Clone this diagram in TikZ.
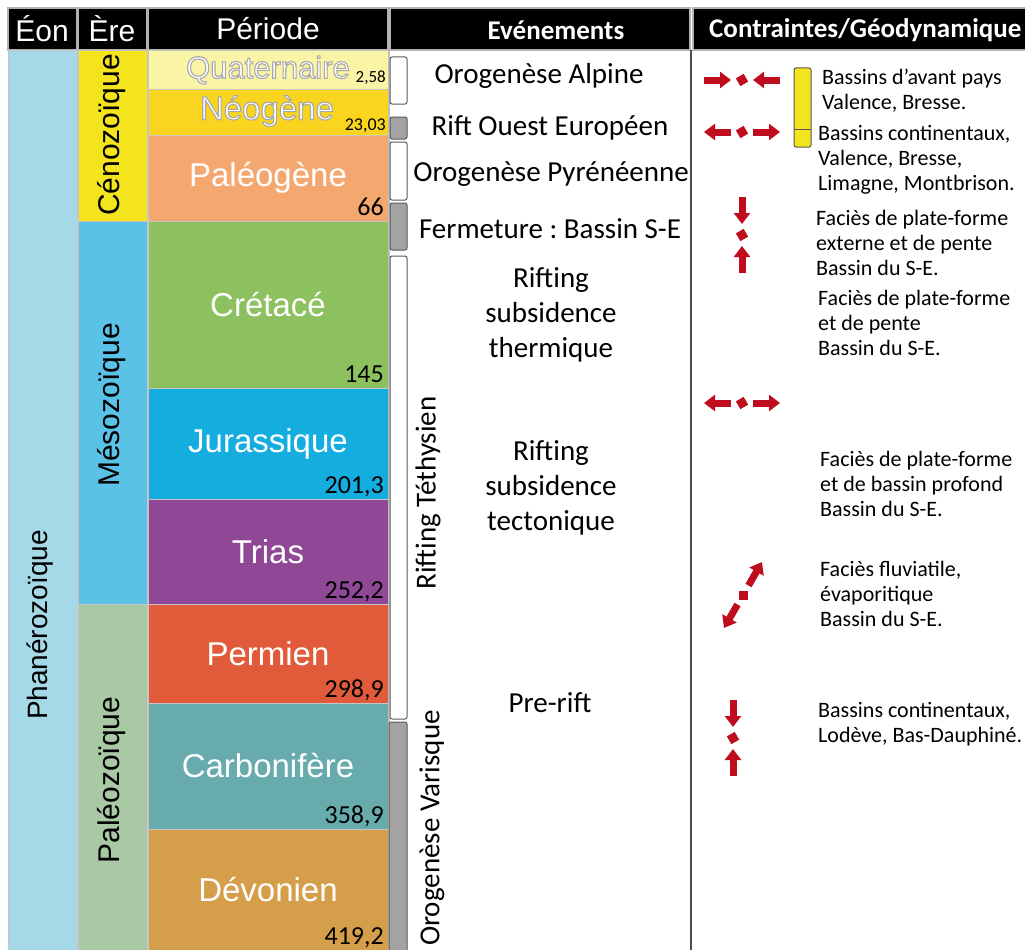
\documentclass[tikz,border=0pt]{standalone}
\usepackage{fontspec}
\setmainfont{Carlito}
\newfontfamily\arial{Liberation Sans}
\usetikzlibrary{arrows.meta, positioning}
\frenchspacing

\definecolor{eon}{HTML}{A6D9E8}
\definecolor{ceno}{HTML}{F4E41E}
\definecolor{meso}{HTML}{5BC2E7}
\definecolor{paleo}{HTML}{A9C9A4}
\definecolor{quat}{HTML}{FAF4A6}
\definecolor{neog}{HTML}{FAD51F}
\definecolor{paleog}{HTML}{F4A870}
\definecolor{creta}{HTML}{8DC05F}
\definecolor{jura}{HTML}{13AEDF}
\definecolor{trias}{HTML}{8E4896}
\definecolor{perm}{HTML}{E15B3B}
\definecolor{carbo}{HTML}{67ABAD}
\definecolor{devo}{HTML}{D59E4A}
\definecolor{stressred}{HTML}{C00D1E}
\definecolor{barfill}{HTML}{A3A3A3}

% white letters with a grey rim (fill + stroke rendering mode)
\newcommand{\outlined}[1]{\special{pdf:literal direct 0.66 G 2 Tr 1.1 w}#1\special{pdf:literal direct 0 Tr}}

\tikzset{
    x=1pt, y=-1pt, % one unit is one pixel, y grows downwards
    head/.style={fill=black, draw=gray!60, line width=1.2pt}, % black header cells
    headtext/.style={text=white, font=\arial\fontsize{30}{34}\selectfont},
    boldhead/.style={text=white, font=\bfseries\fontsize{27}{30}\selectfont},
    cell/.style={draw=gray!45, line width=0.8pt}, % coloured cells of the scale
    periodname/.style={text=white, font=\arial\fontsize{33}{36}\selectfont},
    eraname/.style={rotate=90, font=\arial\fontsize{30}{34}\selectfont},
    age/.style={anchor=base east, inner sep=0pt, font=\fontsize{26}{28}\selectfont},
    event/.style={align=center, font=\fontsize{29}{35}\selectfont},
    note/.style={align=left, anchor=north west, inner sep=0pt, font=\fontsize{22}{25}\selectfont},
    bar/.style={draw=gray!70!black, line width=1pt, rounded corners=2pt},
    stress/.style={draw=stressred, line width=7pt, -{Triangle[length=11pt, width=16pt]}},
    knot/.style={fill=stressred},
    squeeze/.pic={ % compression: arrows pointing inwards
        \draw[stress] (-38,0) -- (-11,0);
        \draw[stress] (38,0) -- (11,0);
        \fill[knot, rotate=30] (-4.5,-4.5) rectangle (4.5,4.5);
    },
    spread/.pic={ % extension: arrows pointing outwards
        \draw[stress] (-11,0) -- (-38,0);
        \draw[stress] (11,0) -- (38,0);
        \fill[knot, rotate=30] (-4.5,-4.5) rectangle (4.5,4.5);
    },
}

\begin{document}
\begin{tikzpicture}
    \useasboundingbox (0,0) rectangle (1025,950);

    % header row
    \draw[head] (8,8) rectangle (77,50);
    \draw[head] (78,8) rectangle (147,50);
    \draw[head] (148,8) rectangle (388,50);
    \draw[head] (390,8) rectangle (690,50);
    \draw[head] (693,8) rectangle (1030,50);
    \node[headtext] (eonhead) at (42,29) {Éon};
    \node[headtext] (erehead) at (112,29) {Ère};
    \node[headtext] (periodhead) at (268,29) {Période};
    \node[boldhead] (eventhead) at (556,30) {Evénements};
    \node[boldhead, anchor=west, inner sep=0pt] (stresshead) at (709,30) {Contraintes/Géodynamique};

    % eon and eras
    \draw[cell, fill=eon] (8,50) rectangle (77,955);
    \node[eraname, font=\arial\fontsize{28}{32}\selectfont] (phanero) at (40,625) {Phanérozoïque};
    \draw[cell, fill=ceno] (78,50) rectangle (147,221);
    \node[eraname] (cenozoic) at (112,135) {Cénozoïque};
    \draw[cell, fill=meso] (78,221) rectangle (147,604);
    \node[eraname] (mesozoic) at (112,405) {Mésozoïque};
    \draw[cell, fill=paleo] (78,604) rectangle (147,955);
    \node[eraname] (paleozoic) at (112,780) {Paléozoïque};

    % periods
    \draw[cell, fill=quat] (148,50) rectangle (388,89);
    \node[periodname, font=\arial\fontsize{31}{32}\selectfont] (quat) at (268,70) {\outlined{Quaternaire}};
    \node[age, font=\fontsize{17}{20}\selectfont] (quat age) at (386,82) {2,58};
    \draw[cell, fill=neog] (148,89) rectangle (388,135);
    \node[periodname] (neog) at (267,111) {\outlined{Néogène}};
    \node[age, font=\fontsize{18}{20}\selectfont] (neog age) at (386,130) {23,03};
    \foreach \ya/\yb/\col/\lab/\age in {135/221/paleog/Paléogène/66, 221/388/creta/Crétacé/145,
        388/499/jura/Jurassique/{201,3}, 499/604/trias/Trias/{252,2}, 604/703/perm/Permien/{298,9},
        703/829/carbo/Carbonifère/{358,9}, 829/950/devo/Dévonien/{419,2}}
    {
        \draw[cell, fill=\col] (148,\ya) rectangle (388,\yb+5);
        \node[periodname] (\col) at (268,{(\ya+\yb)/2}) {\lab};
        \node[age] (\col age) at (384,\yb-6) {\age};
    }
    \draw[gray!50, line width=2pt] (389,50) -- (389,955);

    % event bars
    \draw[bar, fill=white] (390,57) rectangle (407,104);
    \draw[bar, fill=barfill] (390,117) rectangle (407,139);
    \draw[bar, fill=white] (390,142) rectangle (407,200);
    \draw[bar, fill=barfill] (390,203) rectangle (407,250);
    \draw[bar, fill=white] (390,256) rectangle (407,719);
    \draw[bar, fill=barfill] (389,722) rectangle (407,960);
    \node[event, rotate=90] (tethys) at (428,493) {Rifting Téthysien};
    \node[event, rotate=90] (varisque) at (432,828) {Orogenèse Varisque};

    % events
    \node[event] (alpine) at (539,76) {Orogenèse Alpine};
    \node[event] (riftwest) at (550,128) {Rift Ouest Européen};
    \node[event] (pyrenees) at (551,174) {Orogenèse Pyrénéenne};
    \node[event] (closing) at (550,229) {Fermeture : Bassin S-E};
    \node[event] (thermal) at (551,315) {Rifting\\subsidence\\thermique};
    \node[event] (tectonic) at (551,488) {Rifting\\subsidence\\tectonique};
    \node[event] (prerift) at (550,703) {Pre-rift};
    \draw[gray!60!black, line width=1.5pt] (691,50) -- (691,955);

    % stresses
    \pic at (742,80) {squeeze};
    \pic at (742,132) {spread};
    \pic[rotate=90] at (742,235) {squeeze};
    \pic at (742,403) {spread};
    \pic[rotate=60] at (743,595) {spread};
    \pic[rotate=90] at (733,738) {squeeze};
    \draw[bar, fill=ceno] (794,68) rectangle (811,147);
    \draw[gray!70!black, line width=1pt] (794,129) -- (811,129);

    % basins
    \node[note] (foreland) at (822,69) {Bassins d’avant pays\\Valence, Bresse.};
    \node[note] (continental) at (818,125) {Bassins continentaux,\\Valence, Bresse,\\Limagne, Montbrison.};
    \node[note] (slope) at (816,210) {Faciès de plate-forme\\externe et de pente\\Bassin du S-E.};
    \node[note] (platform) at (818,290) {Faciès de plate-forme\\et de pente\\Bassin du S-E.};
    \node[note] (deep) at (820,451) {Faciès de plate-forme\\et de bassin profond\\Bassin du S-E.};
    \node[note] (fluvial) at (820,561) {Faciès fluviatile,\\évaporitique\\Bassin du S-E.};
    \node[note] (lodeve) at (818,702) {Bassins continentaux,\\Lodève, Bas-Dauphiné.};
\end{tikzpicture}
\end{document}
